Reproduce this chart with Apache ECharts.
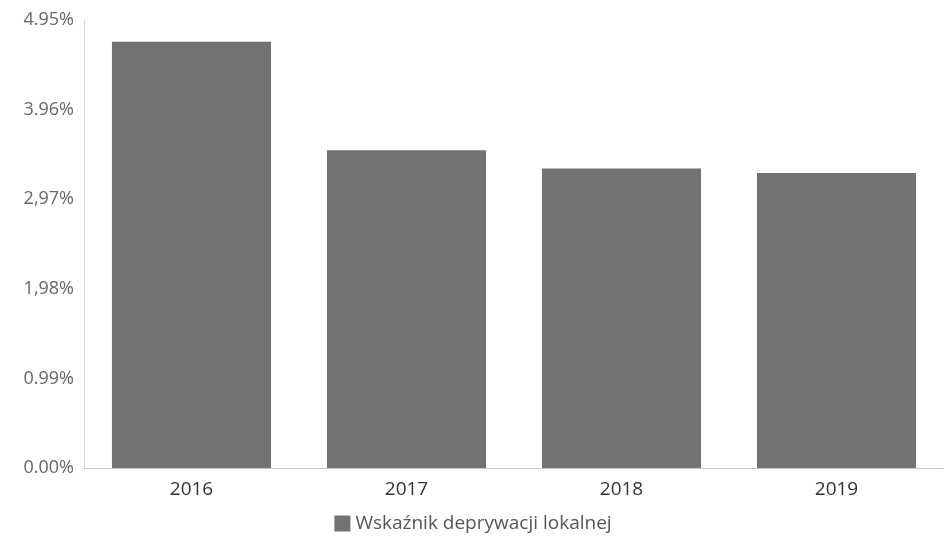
<!DOCTYPE html>
<html><head><meta charset="utf-8">
<script src="https://cdn.jsdelivr.net/npm/echarts@6/dist/echarts.min.js"></script>
<style>html,body{margin:0;padding:0;background:#fff}#c{width:946px;height:544px}</style>
</head><body><div id="c"></div>
<script>
const categories = ['2016', '2017', '2018', '2019'];
const values = [4.71, 3.51, 3.31, 3.26];
const tickValues = [0, 0.99, 1.98, 2.97, 3.96, 4.95];
const tickLabels = ['0.00%', '0.99%', '1,98%', '2,97%', '3.96%', '4.95%'];
const seriesName = 'Wskaźnik deprywacji lokalnej';

const chart = echarts.init(document.getElementById('c'));
chart.setOption({
  animation: false,
  textStyle: { fontFamily: 'Open Sans' },
  grid: { left: 84, right: 2, top: 20, bottom: 76 },
  legend: {
    bottom: 6, left: 'center',
    itemWidth: 16, itemHeight: 16, itemGap: 10,
    textStyle: { fontSize: 19, color: '#555', fontFamily: 'Open Sans' },
    data: [{ name: seriesName, icon: 'rect' }]
  },
  xAxis: {
    type: 'category', data: categories,
    axisLine: { show: true, lineStyle: { color: '#bbb', type: 'dotted' } },
    axisTick: { show: false },
    axisLabel: { fontSize: 19, color: '#333', margin: 12 }
  },
  yAxis: {
    type: 'value', min: 0, max: 4.95, interval: 0.99,
    axisLine: { show: true, lineStyle: { color: '#ccc', type: 'dotted' } },
    axisTick: { show: false },
    splitLine: { show: false },
    axisLabel: {
      fontSize: 18, color: '#666', margin: 10,
      formatter: function (v) {
        for (let i = 0; i < tickValues.length; i++) {
          if (Math.abs(tickValues[i] - v) < 1e-6) return tickLabels[i];
        }
        return '';
      }
    }
  },
  series: [{
    type: 'bar', name: seriesName, data: values,
    barCategoryGap: '26%',
    itemStyle: { color: '#727272' }
  }]
});
</script></body></html>
